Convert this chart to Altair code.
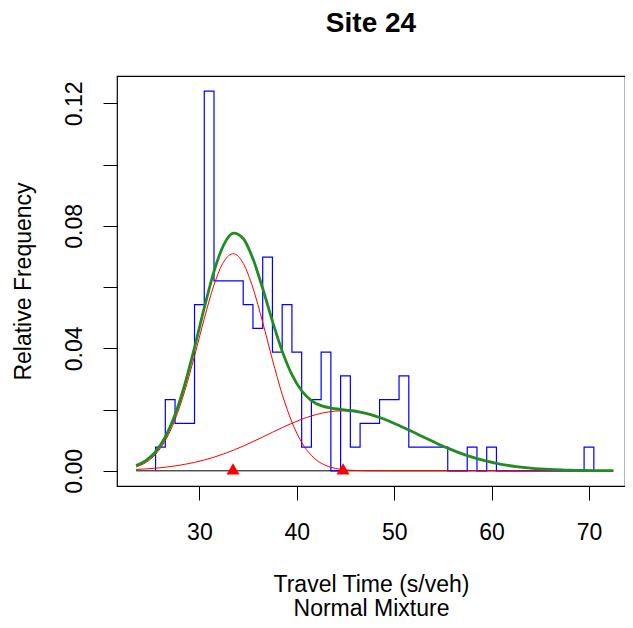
import altair as alt
import pandas as pd

# Histogram (1-unit bins starting at 25.5), counts
bin_start = 25.5
bin_counts = [1, 3, 2, 2, 7, 16, 8, 8, 8, 7, 6, 9, 5, 7, 5, 1, 3, 5, 0, 4,
              1, 2, 2, 3, 3, 4, 1, 1, 1, 1, 0, 0, 1, 0, 1, 0, 0, 0, 0, 0,
              0, 0, 0, 0, 1]
n_obs = 129

# Fitted curves, sampled every 1 s/veh from 23.5 to 72.5
curve_x = [23.5 + i for i in range(50)]
comp1 = [0.00125, 0.00270, 0.00537, 0.00987, 0.01671, 0.02608, 0.0375, 0.0497,
         0.0607, 0.0683, 0.0709, 0.0678, 0.0597, 0.0485, 0.0363, 0.0250,
         0.0159, 0.00932, 0.00503, 0.0025, 0.00115, 0.00049, 0.00019, 0.00007,
         0.00002] + [0.0] * 25
comp2 = [0.00044, 0.00062, 0.00086, 0.00118, 0.00159, 0.00211, 0.00276, 0.00353,
         0.00446, 0.00553, 0.00674, 0.00808, 0.00953, 0.01104, 0.01258, 0.01410,
         0.01553, 0.01683, 0.01793, 0.01878, 0.01934, 0.01959, 0.01951, 0.01910,
         0.01839, 0.01741, 0.01620, 0.01483, 0.01335, 0.01181, 0.01028, 0.00879,
         0.00740, 0.00612, 0.00498, 0.00398, 0.00313, 0.00242, 0.00184, 0.00138,
         0.00101, 0.00073, 0.00052, 0.00036, 0.00025, 0.00017, 0.00011, 0.00007,
         0.00005, 0.00003]
mixture = [0.00169, 0.00332, 0.00623, 0.01105, 0.01830, 0.02819, 0.04026, 0.05323,
           0.06516, 0.07383, 0.07764, 0.07588, 0.06923, 0.05954, 0.04888, 0.03910,
           0.03143, 0.02615, 0.02296, 0.02128, 0.02049, 0.02008, 0.01970, 0.01917,
           0.01841, 0.01742, 0.01620, 0.01483, 0.01335, 0.01181, 0.01028, 0.00879,
           0.00740, 0.00612, 0.00498, 0.00398, 0.00313, 0.00242, 0.00184, 0.00138,
           0.00101, 0.00073, 0.00052, 0.00036, 0.00025, 0.00017, 0.00011, 0.00007,
           0.00005, 0.00003]
means = [33.45, 44.75]
baseline_span = [23.5, 72.5]

x_ticks = [30, 40, 50, 60, 70]
y_ticks = [0.0, 0.02, 0.04, 0.06, 0.08, 0.10, 0.12]

FONT = "Liberation Sans"

# step outline vertices
step_rows = [{"x": bin_start, "y": 0.0}]
for i, c in enumerate(bin_counts):
    left = bin_start + i
    step_rows.append({"x": left, "y": c / n_obs})
    step_rows.append({"x": left + 1, "y": c / n_obs})
step_rows.append({"x": bin_start + len(bin_counts), "y": 0.0})
step_df = pd.DataFrame(step_rows)
step_df["idx"] = range(len(step_df))

comp_df = pd.concat([
    pd.DataFrame({"x": curve_x, "y": comp1, "comp": "1"}),
    pd.DataFrame({"x": curve_x, "y": comp2, "comp": "2"}),
])
mix_df = pd.DataFrame({"x": curve_x, "y": mixture})
mean_df = pd.DataFrame({"x": means, "y": [0.0, 0.0]})
base_df = pd.DataFrame({"x": [baseline_span[0]], "x2": [baseline_span[1]], "y": [0.0]})

# page is 633 wide with an 8px margin, so the right side of the frame is trimmed
x_scale = alt.Scale(domain=[21.54, 73.7], nice=False, zero=False)
y_scale = alt.Scale(domain=[-0.00496, 0.12896], nice=False, zero=False)

x_axis = alt.Axis(
    values=x_ticks, labelPadding=21, labelFontSize=23,
    title=["Travel Time (s/veh)", "Normal Mixture"], titleFontSize=23,
    titleFontWeight="normal", titleLineHeight=24, titleY=105,
    titleBaseline="alphabetic",
)
y_axis = alt.Axis(
    values=y_ticks, labelAngle=-90, labelAlign="center", labelBaseline="alphabetic",
    labelPadding=22, labelFontSize=23,
    labelExpr="round(datum.value * 100) % 4 == 0 ? format(datum.value, '.2f') : ''",
    title="Relative Frequency", titleFontSize=23, titleFontWeight="normal",
    titleAngle=270, titleX=-87, titleY=205, titleBaseline="alphabetic",
    titleAlign="center",
)

rule = alt.Chart(base_df).mark_rule(color="black", strokeWidth=1).encode(
    x=alt.X("x:Q", scale=x_scale, axis=x_axis),
    x2="x2:Q",
    y=alt.Y("y:Q", scale=y_scale, axis=y_axis),
)

steps = alt.Chart(step_df).mark_line(color="#0000FF", strokeWidth=1.2).encode(
    x=alt.X("x:Q", scale=x_scale),
    y=alt.Y("y:Q", scale=y_scale),
    order="idx:Q",
)

comps = alt.Chart(comp_df).mark_line(
    color="#FF0000", strokeWidth=1, interpolate="monotone"
).encode(
    x=alt.X("x:Q", scale=x_scale),
    y=alt.Y("y:Q", scale=y_scale),
    detail="comp:N",
)

mix = alt.Chart(mix_df).mark_line(
    color="#228B22", strokeWidth=2.8, interpolate="monotone"
).encode(
    x=alt.X("x:Q", scale=x_scale),
    y=alt.Y("y:Q", scale=y_scale),
)

tri = alt.Chart(mean_df).mark_point(
    shape="triangle-up", filled=True, color="#FF0000", opacity=1, size=170, yOffset=-2
).encode(
    x=alt.X("x:Q", scale=x_scale),
    y=alt.Y("y:Q", scale=y_scale),
)

chart = alt.layer(rule, steps, comps, mix, tri).properties(
    width=508,
    height=410,
    autosize=alt.AutoSizeParams(type="none"),
    padding={"left": 109, "top": 68, "right": 0, "bottom": 134},
    title=alt.TitleParams(
        "Site 24", font=FONT, fontSize=28, fontWeight="bold", color="black",
        anchor="middle", offset=38, frame="group",
    ),
).configure(
    font=FONT,
    background="white",
).configure_view(
    stroke="black", strokeWidth=1.2,
).configure_axis(
    labelFont=FONT, titleFont=FONT, labelColor="black", titleColor="black",
    tickColor="black", tickSize=14, tickWidth=1, domain=False, grid=False,
)

chart.save("out.html", embed_options={"renderer": "svg", "actions": False})
